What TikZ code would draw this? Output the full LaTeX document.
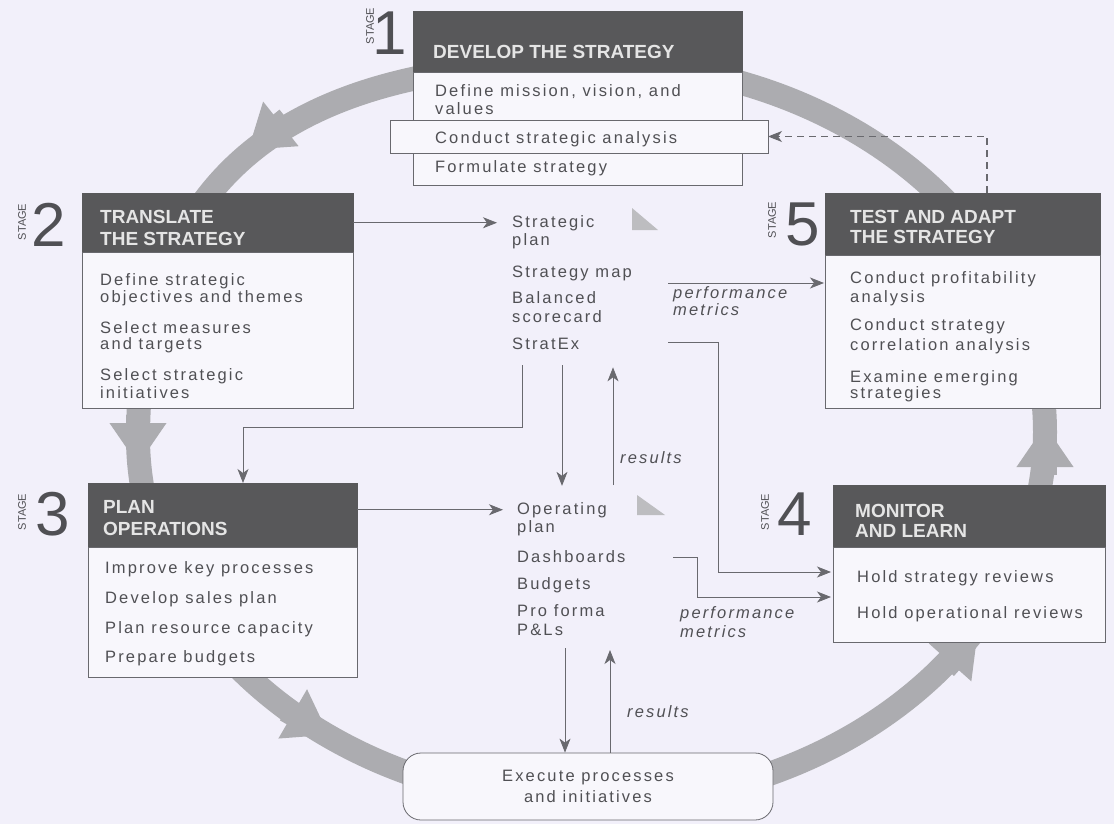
\documentclass[tikz,border=0pt]{standalone}
\usepackage{fontspec}
\setmainfont{Liberation Sans}
\newfontfamily\bodyf[LetterSpace=13]{Liberation Sans}
\usetikzlibrary{arrows.meta}
\definecolor{paper}{RGB}{242,240,250}
\definecolor{boxfill}{RGB}{248,247,252}
\definecolor{hdrgray}{RGB}{88,88,90}
\definecolor{txtgray}{RGB}{80,80,84}
\definecolor{ringgray}{RGB}{172,172,176}
\definecolor{linegray}{RGB}{105,105,110}
\begin{document}
\begin{tikzpicture}[x=1pt,y=-1pt,
  hdr/.style={fill=hdrgray,draw=hdrgray,line width=0.6pt,anchor=north west,inner sep=0pt,outer sep=0pt},
  bodybox/.style={fill=boxfill,draw=linegray,line width=0.8pt,anchor=north west,inner sep=0pt,outer sep=0pt},
  htext/.style={font=\fontsize{19}{21}\selectfont\bfseries,text=white!90!black,anchor=base west,inner sep=0pt},
  btext/.style={font=\bodyf\fontsize{16.5}{18}\selectfont,text=txtgray,anchor=base west,inner sep=0pt},
  itext/.style={font=\bodyf\itshape\fontsize{16.5}{18}\selectfont,text=txtgray,anchor=base west,inner sep=0pt},
  stagelbl/.style={font=\fontsize{11}{11}\selectfont,text=txtgray,rotate=90,inner sep=0pt},
  stagenum/.style={font=\fontsize{62}{62}\selectfont,text=txtgray,anchor=base west,inner sep=0pt},
  ring/.style={line width=24pt,draw=ringgray},
  ringarrow/.style={ring,-{Triangle[length=42pt,width=54pt]}},
  conn/.style={draw=linegray,line width=0.8pt,-{Stealth[length=14pt,width=11pt,inset=4pt]}},
  dconn/.style={conn,dash pattern=on 7pt off 5pt,line width=1.2pt},
]
\fill[paper] (0,0) rectangle (1114,824);
\useasboundingbox (0,0) rectangle (1114,824);

% ring
\draw[ring] (590,62) .. controls (285,62) and (142,178) .. (138,432)
  .. controls (135,637) and (339,804) .. (590,804)
  .. controls (841,804) and (1045,637) .. (1045,432)
  .. controls (1045,227) and (841,62) .. cycle;
\draw[ringarrow] (287,119) -- (248,150);
\draw[ringarrow] (138,415) -- (138,465);
\draw[ringarrow] (286,710) -- (329,735);
\draw[ringarrow] (945,668) -- (978,631);
\draw[ringarrow] (1045,475) -- (1045,425);

% small grey triangles
\fill[ringgray!80] (632,208) -- (632,230) -- (658,230) -- cycle;
\fill[ringgray!80] (637,495) -- (637,515) -- (665,515) -- cycle;

% stage 1
\node[hdr,minimum width=329pt,minimum height=61pt] (h1) at (413,11) {};
\node[bodybox,minimum width=329pt,minimum height=113pt] (b1) at (413,72) {};
\node[bodybox,minimum width=378pt,minimum height=33pt] (c1) at (390,120) {};
\node[htext] (t1) at (433,59) {DEVELOP THE STRATEGY};
\node[btext] (t1a) at (435,97) {Define mission, vision, and};
\node[btext] (t1b) at (435,115) {values};
\node[btext] (t1c) at (435,143) {Conduct strategic analysis};
\node[btext] (t1d) at (435,172) {Formulate strategy};
\node[stagelbl] (l1) at (370,26) {STAGE};
\node[stagenum] (n1) at (372,55) {1};

% stage 2
\node[hdr,minimum width=271pt,minimum height=59pt] (h2) at (82,193) {};
\node[bodybox,minimum width=271pt,minimum height=156pt] (b2) at (82,252) {};
\node[htext] (t2) at (100,223) {TRANSLATE};
\node[htext] (t2x) at (100,245) {THE STRATEGY};
\node[btext] (t2a) at (100,285) {Define strategic};
\node[btext] (t2b) at (100,302) {objectives and themes};
\node[btext] (t2c) at (100,333) {Select measures};
\node[btext] (t2d) at (100,349) {and targets};
\node[btext] (t2e) at (100,380) {Select strategic};
\node[btext] (t2f) at (100,398) {initiatives};
\node[stagelbl] (l2) at (22,222) {STAGE};
\node[stagenum] (n2) at (31,246) {2};

% stage 3
\node[hdr,minimum width=269pt,minimum height=64pt] (h3) at (88,483) {};
\node[bodybox,minimum width=269pt,minimum height=130pt] (b3) at (88,547) {};
\node[htext] (t3) at (103,513) {PLAN};
\node[htext] (t3x) at (103,535) {OPERATIONS};
\node[btext] (t3a) at (105,573) {Improve key processes};
\node[btext] (t3b) at (105,603) {Develop sales plan};
\node[btext] (t3c) at (105,633) {Plan resource capacity};
\node[btext] (t3d) at (105,662) {Prepare budgets};
\node[stagelbl] (l3) at (22,512) {STAGE};
\node[stagenum] (n3) at (35,535) {3};

% stage 4
\node[hdr,minimum width=272pt,minimum height=62pt] (h4) at (833,485) {};
\node[bodybox,minimum width=272pt,minimum height=95pt] (b4) at (833,547) {};
\node[htext] (t4) at (855,517) {MONITOR};
\node[htext] (t4x) at (855,537) {AND LEARN};
\node[btext] (t4a) at (857,582) {Hold strategy reviews};
\node[btext] (t4b) at (857,618) {Hold operational reviews};
\node[stagelbl] (l4) at (765,512) {STAGE};
\node[stagenum] (n4) at (777,535) {4};

% stage 5
\node[hdr,minimum width=275pt,minimum height=62pt] (h5) at (825,193) {};
\node[bodybox,minimum width=275pt,minimum height=153pt] (b5) at (825,255) {};
\node[htext] (t5) at (850,223) {TEST AND ADAPT};
\node[htext] (t5x) at (850,243) {THE STRATEGY};
\node[btext] (t5a) at (850,283) {Conduct profitability};
\node[btext] (t5b) at (850,302) {analysis};
\node[btext] (t5c) at (850,330) {Conduct strategy};
\node[btext] (t5d) at (850,350) {correlation analysis};
\node[btext] (t5e) at (850,382) {Examine emerging};
\node[btext] (t5f) at (850,398) {strategies};
\node[stagelbl] (l5) at (772,220) {STAGE};
\node[stagenum] (n5) at (785,245) {5};

% execute
\node[draw=linegray,fill=boxfill,rounded corners=18pt,minimum width=370pt,minimum height=67pt,line width=0.8pt,inner sep=0pt,align=center,font=\bodyf\fontsize{16.5}{21}\selectfont,text=txtgray] (ex) at (588,786.5) {Execute processes\\and initiatives};

% centre column
\node[btext] (sp1) at (512,227) {Strategic};
\node[btext] (sp2) at (512,245) {plan};
\node[btext] (sp3) at (512,277) {Strategy map};
\node[btext] (sp4) at (512,303) {Balanced};
\node[btext] (sp5) at (512,322) {scorecard};
\node[btext] (sp6) at (512,349) {StratEx};
\node[btext] (op1) at (517,514) {Operating};
\node[btext] (op2) at (517,532) {plan};
\node[btext] (op3) at (517,562) {Dashboards};
\node[btext] (op4) at (517,589) {Budgets};
\node[btext] (op5) at (517,616) {Pro forma};
\node[btext] (op6) at (517,635) {P\&Ls};
\node[itext] (pm1) at (673,298) {performance};
\node[itext] (pm2) at (673,315) {metrics};
\node[itext] (pm3) at (680,618) {performance};
\node[itext] (pm4) at (680,637) {metrics};
\node[itext] (r1) at (620,463) {results};
\node[itext] (r2) at (627,717) {results};

% connectors
\draw[conn,shorten >=15pt] (sp1.west -| h2.east) -- (sp1.west);
\draw[conn,shorten >=14pt] (op1.west -| h3.east) -- (op1.west);
\coordinate (c3a) at (522,365);
\coordinate (c3b) at (243,427);
\draw[conn] (c3a) |- (c3b) -- (c3b |- h3.north);
\coordinate (dA) at (562,365);
\draw[conn,shorten >=16pt] (dA) -- (dA |- op1.north);
\coordinate (eA) at (613,485);
\draw[conn,shorten >=18pt] (eA) -- (eA |- sp6.south);
\coordinate (fA) at (565,648);
\draw[conn] (fA) -- (fA |- ex.north);
\coordinate (gA) at (610,650);
\draw[conn] (gA |- ex.north) -- (gA);
\coordinate (hA) at (668,342);
\coordinate (hB) at (718,572);
\draw[conn,shorten >=2pt] (hA) -| (hB) -- (hB -| b4.west);
\coordinate (iA) at (673,557);
\coordinate (iB) at (697,597);
\draw[conn,shorten >=2pt] (iA) -| (iB) -- (iB -| b4.west);
\coordinate (jA) at (668,283);
\draw[conn,shorten >=1pt] (jA) -- (jA -| b5.west);
\coordinate (kA) at (987,0);
\draw[dconn] (kA |- h5.north) -- (kA |- c1.east) -- (c1.east);
\end{tikzpicture}
\end{document}
